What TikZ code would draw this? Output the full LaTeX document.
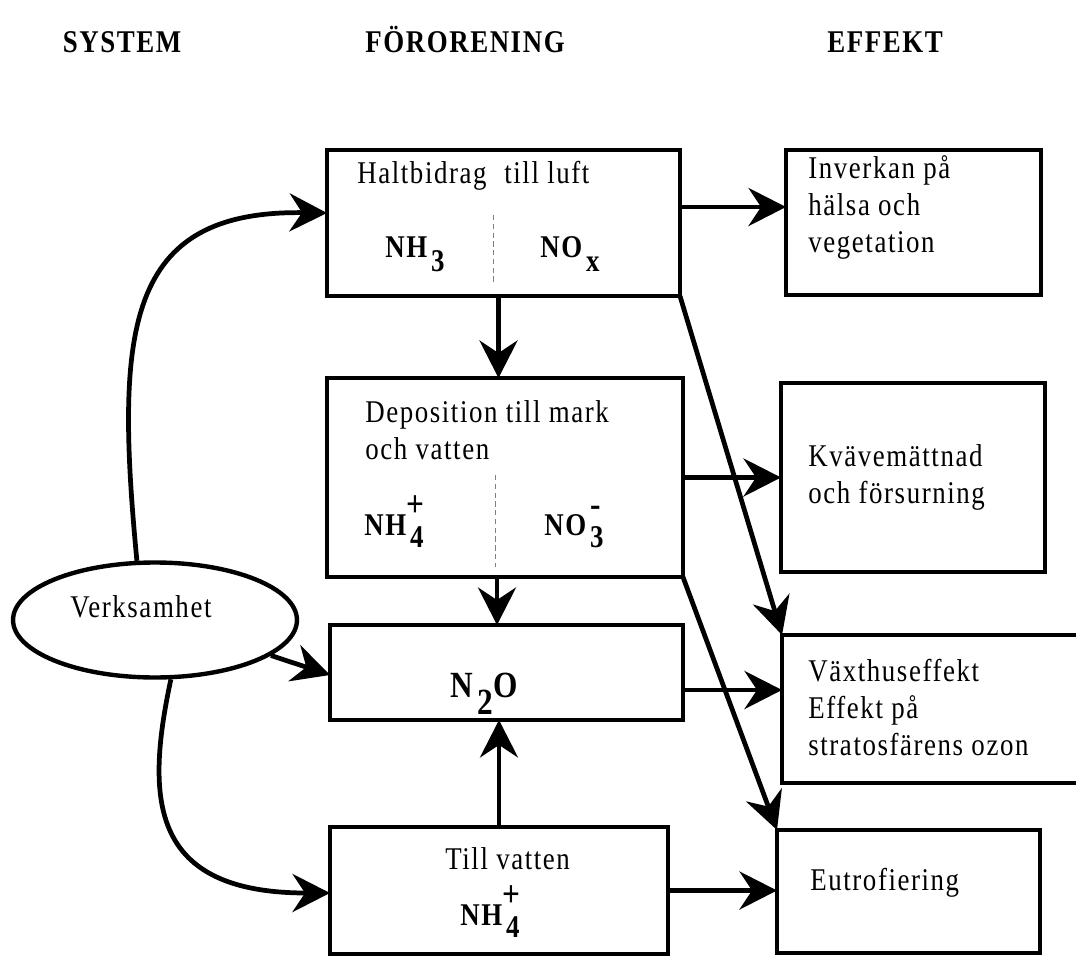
\documentclass[tikz,border=0pt]{standalone}
\usepackage{fontspec}
\setmainfont{Liberation Serif}[FakeStretch=0.85,LetterSpace=5]
\usetikzlibrary{arrows.meta,shapes.geometric}

% lowered digit and stacked charge for the formulas
\newcommand{\lowsub}[1]{\hspace{0.12em}\raisebox{-0.47em}{#1}}
\newcommand{\ionsub}[2]{\hspace{0.12em}\raisebox{-0.4em}{#1}\llap{\makebox[0.48em][c]{\raisebox{0.6em}{\fontsize{21}{21}\selectfont#2}}}}

\begin{document}
\begin{tikzpicture}[
    x=0.02cm, y=-0.02cm,
    line width=2.7pt,
    box/.style = {
        draw,
        rectangle,
        inner sep=0pt,
        outer sep=0pt
    },
    txt/.style = {
        anchor=base west,
        inner sep=0pt,
        align=left,
        font=\fontsize{18}{21}\selectfont
    },
    head/.style = {
        anchor=base,
        inner sep=0pt,
        font=\bfseries\fontsize{18}{20}\selectfont
    },
    chem/.style = {
        anchor=base west,
        inner sep=0pt,
        font=\bfseries\fontsize{18}{20}\selectfont
    },
    arr/.style = {-{Stealth[length=0.75cm,width=0.76cm,inset=0.25cm]}},
    divider/.style = {densely dashed, gray, line width=0.5pt}
]
\clip (0,0) rectangle (1076,957);

% --- Rubriker ---
\node[head] (sys) at (122,52) {SYSTEM};
\node[head] (foro) at (465,52) {FÖRORENING};
\node[head] (eff) at (885,52) {EFFEKT};

% --- Verksamhet ---
\node[draw, ellipse, line width=2.5pt, minimum width=5.68cm, minimum height=2.3cm] (verk) at (155,620) {};
\node[txt] (verkT) at (68,617) {Verksamhet};

% --- Förorening ---
\node[box, minimum width=7.06cm, minimum height=2.92cm] (luft) at (503.5,223) {};
\node[box, minimum width=7.12cm, minimum height=3.98cm] (depo) at (505,477.5) {};
\node[box, minimum width=7.06cm, minimum height=1.9cm] (lustgas) at (506.5,672.5) {};
\node[box, minimum width=6.76cm, minimum height=2.54cm] (vatten) at (499,890.5) {};

\node[txt] (luftT) at (355,183) {Haltbidrag\hspace{0.3em} till luft};
\node[chem] (nh3) at (383,257) {NH\lowsub{3}};
\node[chem] (nox) at (538,257) {NO\lowsub{x}};
\draw[divider] (493,215) -- (493,283);

\node[txt] (depoT) at (363,459) {Deposition till mark\\och vatten};
\node[chem] (nh4a) at (362,535) {NH\ionsub{4}{+}};
\node[chem] (no3) at (542,535) {NO\ionsub{3}{-}};
\draw[divider] (495,475) -- (495,567);

\node[chem, font=\bfseries\fontsize{21}{24}\selectfont] (n2o) at (448,697) {N\lowsub{2}O};

\node[txt] (vattenT) at (443,869) {Till vatten};
\node[chem] (nh4b) at (458,925) {NH\ionsub{4}{+}};

% --- Effekt ---
\node[box, minimum width=5.1cm, minimum height=2.9cm] (halsa) at (913.5,222.5) {};
\node[box, minimum width=5.28cm, minimum height=3.78cm] (kvave) at (913,477.5) {};
\node[box, minimum width=6.4cm, minimum height=2.96cm] (vaxthus) at (942,709) {};
\node[box, minimum width=5.26cm, minimum height=2.46cm] (eutro) at (908.5,891.5) {};

\node[txt] (halsaT) at (806,252) {Inverkan på\\hälsa och\\vegetation};
\node[txt] (kvaveT) at (806,503) {Kvävemättnad\\och försurning};
\node[txt] (vaxthusT) at (806,755) {Växthuseffekt\\Effekt på\\stratosfärens ozon};
\node[txt] (eutroT) at (808,890) {Eutrofiering};

% --- Pilar ---
\draw[arr] (verk.107) .. controls (115,330) and (125,210) .. ([yshift=0.2cm]luft.west);
\draw[arr] (verk.343) -- ([yshift=-0.05cm]lustgas.west);
\draw[arr] (verk.285) .. controls (145,800) and (150,893) .. ([yshift=-0.05cm]vatten.west);

\draw[arr] ([xshift=-0.1cm]luft.south) -- ([xshift=-0.1cm]luft.south |- depo.north);
\draw[arr] ([xshift=-0.16cm]depo.south) -- ([xshift=-0.16cm]depo.south |- lustgas.north);
\draw[arr] (vatten.north) -- (vatten.north |- lustgas.south);

\draw[arr] ([yshift=0.32cm]luft.east) -- ([yshift=0.32cm]luft.east -| halsa.west);
\draw[arr] (depo.east) -- (depo.east -| kvave.west);
\draw[arr] ([yshift=-0.35cm]lustgas.east) -- ([yshift=-0.35cm]lustgas.east -| vaxthus.west);
\draw[arr] (vatten.east) -- (vatten.east -| eutro.west);

\draw[arr] (luft.south east) -- (vaxthus.north west);
\draw[arr] (depo.south east) -- (eutro.north west);

\end{tikzpicture}
\end{document}
